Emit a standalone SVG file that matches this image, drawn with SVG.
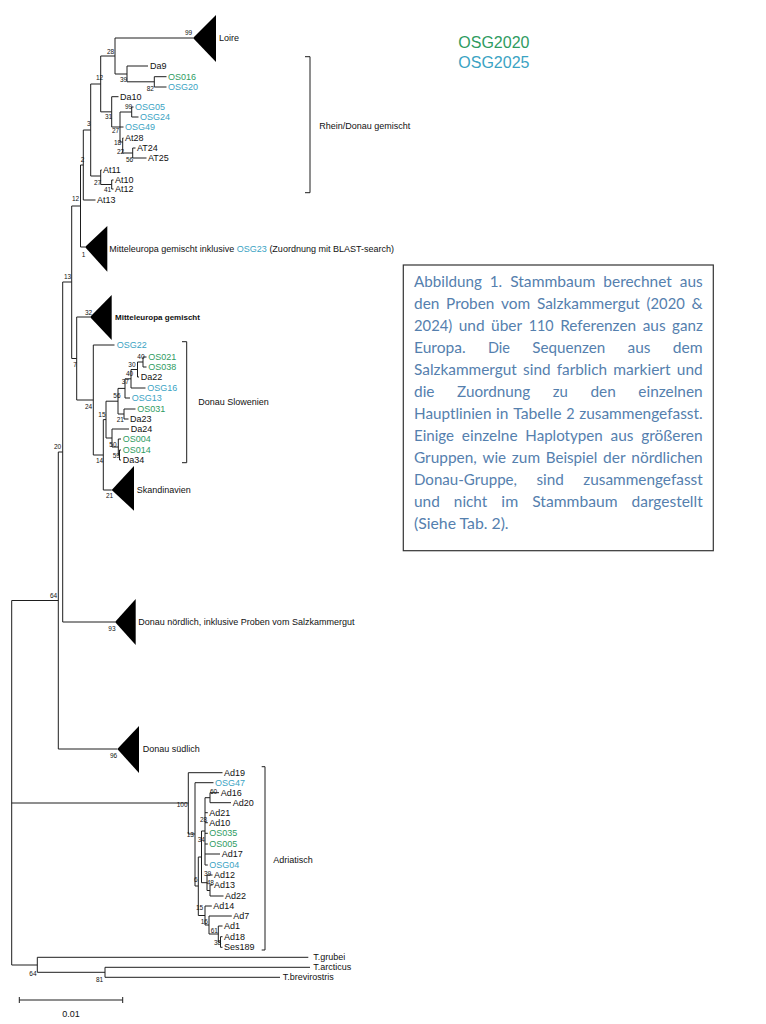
<svg xmlns="http://www.w3.org/2000/svg" width="766" height="1024" viewBox="0 0 766 1024">
<style>
.ln{fill:none;stroke:#1e1e1e;stroke-width:1}
.lf{font-family:"Liberation Sans",Arial,sans-serif;font-size:9px;fill:#111}
.b{font-weight:bold;font-size:8px}
.g{fill:#2e9b5f}
.t{fill:#3aa3c3}
.bs{font-family:"Liberation Sans",Arial,sans-serif;font-size:6.5px;fill:#111}
.tri{fill:#000}
.cap text{font-family:Lato,"Open Sans",sans-serif;font-size:15px;fill:#5580ae}
.leg{font-family:"Liberation Sans",Arial,sans-serif;font-size:16px}
</style>
<rect width="766" height="1024" fill="#fff"/>

<g id="connectors" class="ln">
<path d="M11.7 600.5V965M11.7 600.5H58.3M11.7 803H188.3M11.7 965H37.3"/>
<path d="M58.3 452V749M58.3 749H117.3M58.3 452H62.7M62.7 282V622M62.7 622H115M62.7 282H71.7M71.7 206V358.5M71.7 358.5H76.7"/>
<path d="M76.7 317V400M76.7 317H90M76.7 400H93.3M93.3 345V455M93.3 345H114.5M93.3 455H103.3M103.3 419.6V490M103.3 490H111.7M103.3 419.6H106"/>
<path d="M106 401.2V438M106 401.2H118M118 388.4V414M118 388.4H125M125 378.8V398M125 398H130M125 378.8H131M131 369.5V388M131 388H145.5M131 369.5H137.5M137.5 362V377M137.5 377H139M137.5 362H143M143 357V367M143 357H146.5M143 367H146.5"/>
<path d="M118 414H124M124 409V419M124 409H135.5M124 419H128.5M106 438H112M112 429V447M112 429H129M112 447H118.3M118.3 439V455M118.3 439H121M118.3 455H119.5M119.5 450V460M119.5 450H121M119.5 460H121"/>
<path d="M71.7 206H80.5M80.5 165V247M80.5 247H85M80.5 165H83.3M83.3 130V200M83.3 200H95.5M83.3 130H90.7M90.7 84V176M90.7 176H100.7M100.7 170V184.5M100.7 170H101.8M100.7 184.5H111.7M111.7 180V189M111.7 180H113.5M111.7 189H113.5"/>
<path d="M90.7 84H100.7M100.7 56V111.85M100.7 56H115M115 38V74M115 38H193M115 74H127M127 66V81.8M127 66H148M127 81.8H154.3M154.3 76.7V87M154.3 76.7H166.5M154.3 87H166.5"/>
<path d="M100.7 111.85H111.7M111.7 96.7V127M111.7 96.7H118.5M111.7 127H120M120 112V142M120 112H131.7M131.7 107V117M131.7 107H133.5M131.7 117H138.5M120 127H123.5M120 142H122.7M122.7 138V153M122.7 138H123.5M122.7 153H132.7M132.7 148V158M132.7 148H135.5M132.7 158H146.5"/>
<path d="M188.3 772.7V834M188.3 772.7H222.5M188.3 834H195M195 782.7V886M195 782.7H213.5M195 886H198.3M198.3 857V915.5M198.3 857H201.5M201.5 831V882.7M201.5 831H205M205 797.7V865M205 797.7H210M210 792.7V802.7M210 792.7H219M210 802.7H231"/>
<path d="M205 812.7H207.8M205 822.7H207.8M205 833.3H207.8M205 844H207.8M205 854H220M205 865H207.8M201.5 882.7H207M207 875V890.5M207 875H212.5M207 890.5H210M210 885V896M210 885H212.5M210 896H223.5"/>
<path d="M198.3 915.5H205M205 906V925M205 906H211.8M205 925H209M209 916V934M209 916H231.8M209 934H218.3M218.3 926V942M218.3 926H222.5M218.3 942H220.5M220.5 936.7V947.3M220.5 936.7H222.5M220.5 947.3H222.5"/>
<path d="M37.3 957.3V972.3M37.3 957.3H308.3M37.3 972.3H105M105 967.3V977.3M105 967.3H310M105 977.3H280"/>
</g>

<g id="brackets" class="ln">
<path d="M305 56.7H310V192.7H305"/>
<path d="M182 341.7H186.7V462.7H182"/>
<path d="M261.7 766.7H265V950H261.7"/>
</g>

<g id="clade-loire"><polygon class="tri" points="193,38 216,15 216,62"/><text class="lf" x="219" y="41">Loire</text></g>
<g id="clade-mitteleuropa-inkl"><polygon class="tri" points="85,247 107.3,226 107.3,271.7"/><text class="lf" x="109.3" y="252">Mitteleuropa gemischt inklusive <tspan class="t">OSG23</tspan> (Zuordnung mit BLAST-search)</text></g>
<g id="clade-mitteleuropa"><polygon class="tri" points="90,317 111.7,295 111.7,340"/><text class="lf b" x="115" y="320.3">Mitteleuropa gemischt</text></g>
<g id="clade-skandinavien"><polygon class="tri" points="111.7,490 134,466 134,510.7"/><text class="lf" x="136.7" y="493">Skandinavien</text></g>
<g id="clade-donau-noerdlich"><polygon class="tri" points="115,622 135.7,599 135.7,645"/><text class="lf" x="138.3" y="624.7">Donau nördlich, inklusive Proben vom Salzkammergut</text></g>
<g id="clade-donau-suedlich"><polygon class="tri" points="117.3,749 139,726 139,773"/><text class="lf" x="142.7" y="752">Donau südlich</text></g>
<g id="group-rhein-donau"><text class="lf" x="319.3" y="129">Rhein/Donau gemischt</text></g>
<g id="group-donau-slowenien"><text class="lf" x="198.3" y="404.7">Donau Slowenien</text></g>
<g id="group-adriatisch"><text class="lf" x="273.3" y="863">Adriatisch</text></g>

<g id="leaves" class="lf">
<g id="leaf-Da9"><text x="150" y="69">Da9</text></g>
<g id="leaf-OS016"><text class="g" x="168" y="79.7">OS016</text></g>
<g id="leaf-OSG20"><text class="t" x="168" y="90">OSG20</text></g>
<g id="leaf-Da10"><text x="120" y="99.7">Da10</text></g>
<g id="leaf-OSG05"><text class="t" x="135" y="110">OSG05</text></g>
<g id="leaf-OSG24"><text class="t" x="140" y="120">OSG24</text></g>
<g id="leaf-OSG49"><text class="t" x="125" y="130">OSG49</text></g>
<g id="leaf-At28"><text x="125" y="141">At28</text></g>
<g id="leaf-AT24"><text x="137" y="151">AT24</text></g>
<g id="leaf-AT25"><text x="148" y="161">AT25</text></g>
<g id="leaf-At11"><text x="103" y="173">At11</text></g>
<g id="leaf-At10"><text x="115" y="183">At10</text></g>
<g id="leaf-At12"><text x="115" y="192">At12</text></g>
<g id="leaf-At13"><text x="97" y="203">At13</text></g>
<g id="leaf-OSG22"><text class="t" x="116.7" y="348">OSG22</text></g>
<g id="leaf-OS021"><text class="g" x="148.3" y="360">OS021</text></g>
<g id="leaf-OS038"><text class="g" x="148.3" y="370">OS038</text></g>
<g id="leaf-Da22"><text x="140.7" y="380">Da22</text></g>
<g id="leaf-OSG16"><text class="t" x="147.3" y="391">OSG16</text></g>
<g id="leaf-OSG13"><text class="t" x="131.7" y="401">OSG13</text></g>
<g id="leaf-OS031"><text class="g" x="137.3" y="412">OS031</text></g>
<g id="leaf-Da23"><text x="130" y="422">Da23</text></g>
<g id="leaf-Da24"><text x="130.7" y="432">Da24</text></g>
<g id="leaf-OS004"><text class="g" x="122.7" y="442">OS004</text></g>
<g id="leaf-OS014"><text class="g" x="122.7" y="453">OS014</text></g>
<g id="leaf-Da34"><text x="122.7" y="463">Da34</text></g>
<g id="leaf-Ad19"><text x="224" y="775.7">Ad19</text></g>
<g id="leaf-OSG47"><text class="t" x="215" y="785.7">OSG47</text></g>
<g id="leaf-Ad16"><text x="220.7" y="795.7">Ad16</text></g>
<g id="leaf-Ad20"><text x="232.7" y="805.7">Ad20</text></g>
<g id="leaf-Ad21"><text x="209.3" y="815.7">Ad21</text></g>
<g id="leaf-Ad10"><text x="209.3" y="825.7">Ad10</text></g>
<g id="leaf-OS035"><text class="g" x="209.3" y="836.3">OS035</text></g>
<g id="leaf-OS005"><text class="g" x="209.3" y="847">OS005</text></g>
<g id="leaf-Ad17"><text x="221.7" y="857">Ad17</text></g>
<g id="leaf-OSG04"><text class="t" x="209.3" y="868">OSG04</text></g>
<g id="leaf-Ad12"><text x="214" y="878">Ad12</text></g>
<g id="leaf-Ad13"><text x="214" y="888">Ad13</text></g>
<g id="leaf-Ad22"><text x="225" y="899">Ad22</text></g>
<g id="leaf-Ad14"><text x="213.3" y="909">Ad14</text></g>
<g id="leaf-Ad7"><text x="233.3" y="919">Ad7</text></g>
<g id="leaf-Ad1"><text x="224" y="929">Ad1</text></g>
<g id="leaf-Ad18"><text x="224" y="939.7">Ad18</text></g>
<g id="leaf-Ses189"><text x="224" y="950.3">Ses189</text></g>
<g id="leaf-Tgrubei"><text x="313.3" y="960.3">T.grubei</text></g>
<g id="leaf-Tarcticus"><text x="313.3" y="970.3">T.arcticus</text></g>
<g id="leaf-Tbrevirostris"><text x="282.7" y="980.3">T.brevirostris</text></g>
</g>

<g id="support-values" class="bs">
<text x="185" y="35.3">99</text>
<text x="107" y="54.3">28</text>
<text x="96" y="80.3">12</text>
<text x="120" y="82.3">39</text>
<text x="146.7" y="90.6">82</text>
<text x="125" y="109.3">99</text>
<text x="105" y="119.3">31</text>
<text x="87" y="126.3">3</text>
<text x="112" y="133.3">27</text>
<text x="114" y="145.3">18</text>
<text x="117" y="154.3">22</text>
<text x="126" y="162.3">56</text>
<text x="80.7" y="161.6">2</text>
<text x="94" y="185.3">27</text>
<text x="104" y="192.3">41</text>
<text x="72" y="201.3">12</text>
<text x="81.7" y="257.3">1</text>
<text x="64" y="279">13</text>
<text x="85" y="315.3">32</text>
<text x="137.3" y="359">40</text>
<text x="128.3" y="367.3">30</text>
<text x="126" y="376.3">40</text>
<text x="121.7" y="384">37</text>
<text x="113.3" y="398.3">56</text>
<text x="73.3" y="367.3">7</text>
<text x="85" y="409.3">24</text>
<text x="98.3" y="417.3">15</text>
<text x="116.7" y="422.3">21</text>
<text x="109.3" y="447.3">50</text>
<text x="112.7" y="458.3">59</text>
<text x="96" y="463.3">14</text>
<text x="106" y="498.3">21</text>
<text x="54" y="449.3">20</text>
<text x="50" y="597.6">64</text>
<text x="108.3" y="631.3">93</text>
<text x="110" y="758.3">96</text>
<text x="176.7" y="807.3">100</text>
<text x="210" y="794">60</text>
<text x="200" y="822.3">28</text>
<text x="186.7" y="837.3">13</text>
<text x="197.7" y="842.3">34</text>
<text x="194" y="882.3">6</text>
<text x="204" y="876.3">39</text>
<text x="206.7" y="885">48</text>
<text x="196" y="910.3">15</text>
<text x="200.7" y="924">16</text>
<text x="210.7" y="933">61</text>
<text x="214" y="945">38</text>
<text x="29.3" y="975.6">64</text>
<text x="96" y="981.6">81</text>
</g>

<g id="scale-bar">
<path class="ln" d="M19.3 1000H122.7M19.3 997V1003M122.7 997V1003"/>
<text class="lf" x="71" y="1017" text-anchor="middle">0.01</text>
</g>

<g id="legend" class="leg">
<text x="458.3" y="48" class="g">OSG2020</text>
<text x="458.3" y="68" class="t">OSG2025</text>
</g>

<g id="caption">
<rect x="403.3" y="265" width="310" height="285.7" fill="#fff" stroke="#333" stroke-width="1.2"/>
<g class="cap">
<g><text x="414" y="287" textLength="67.78" lengthAdjust="spacingAndGlyphs">Abbildung</text><text x="489.74" y="287" textLength="12.45" lengthAdjust="spacingAndGlyphs">1.</text><text x="510.15" y="287" textLength="85.26" lengthAdjust="spacingAndGlyphs">Stammbaum</text><text x="603.37" y="287" textLength="68.49" lengthAdjust="spacingAndGlyphs">berechnet</text><text x="679.82" y="287" textLength="22.88" lengthAdjust="spacingAndGlyphs">aus</text></g>
<g><text x="414" y="309" textLength="25.39" lengthAdjust="spacingAndGlyphs">den</text><text x="446.12" y="309" textLength="48.23" lengthAdjust="spacingAndGlyphs">Proben</text><text x="501.08" y="309" textLength="29.16" lengthAdjust="spacingAndGlyphs">vom</text><text x="536.97" y="309" textLength="102.86" lengthAdjust="spacingAndGlyphs">Salzkammergut</text><text x="646.56" y="309" textLength="38.23" lengthAdjust="spacingAndGlyphs">(2020</text><text x="691.52" y="309" textLength="11.18" lengthAdjust="spacingAndGlyphs">&amp;</text></g>
<g><text x="414" y="331" textLength="38.23" lengthAdjust="spacingAndGlyphs">2024)</text><text x="458.74" y="331" textLength="25.83" lengthAdjust="spacingAndGlyphs">und</text><text x="491.08" y="331" textLength="31.11" lengthAdjust="spacingAndGlyphs">über</text><text x="528.7" y="331" textLength="24.94" lengthAdjust="spacingAndGlyphs">110</text><text x="560.15" y="331" textLength="76" lengthAdjust="spacingAndGlyphs">Referenzen</text><text x="642.66" y="331" textLength="22.88" lengthAdjust="spacingAndGlyphs">aus</text><text x="672.05" y="331" textLength="30.67" lengthAdjust="spacingAndGlyphs">ganz</text></g>
<g><text x="414" y="353" textLength="51.58" lengthAdjust="spacingAndGlyphs">Europa.</text><text x="487.93" y="353" textLength="22.01" lengthAdjust="spacingAndGlyphs">Die</text><text x="532.29" y="353" textLength="72.95" lengthAdjust="spacingAndGlyphs">Sequenzen</text><text x="627.59" y="353" textLength="22.88" lengthAdjust="spacingAndGlyphs">aus</text><text x="672.82" y="353" textLength="29.88" lengthAdjust="spacingAndGlyphs">dem</text></g>
<g><text x="414" y="375" textLength="102.86" lengthAdjust="spacingAndGlyphs">Salzkammergut</text><text x="523.13" y="375" textLength="27.39" lengthAdjust="spacingAndGlyphs">sind</text><text x="556.79" y="375" textLength="50.25" lengthAdjust="spacingAndGlyphs">farblich</text><text x="613.31" y="375" textLength="57.29" lengthAdjust="spacingAndGlyphs">markiert</text><text x="676.87" y="375" textLength="25.83" lengthAdjust="spacingAndGlyphs">und</text></g>
<g><text x="414" y="397" textLength="20.53" lengthAdjust="spacingAndGlyphs">die</text><text x="457.09" y="397" textLength="73.14" lengthAdjust="spacingAndGlyphs">Zuordnung</text><text x="552.79" y="397" textLength="15.09" lengthAdjust="spacingAndGlyphs">zu</text><text x="590.44" y="397" textLength="25.39" lengthAdjust="spacingAndGlyphs">den</text><text x="638.39" y="397" textLength="64.32" lengthAdjust="spacingAndGlyphs">einzelnen</text></g>
<g><text x="414" y="419" textLength="77.44" lengthAdjust="spacingAndGlyphs">Hauptlinien</text><text x="496.13" y="419" textLength="12.37" lengthAdjust="spacingAndGlyphs">in</text><text x="513.19" y="419" textLength="48.3" lengthAdjust="spacingAndGlyphs">Tabelle</text><text x="566.18" y="419" textLength="8.31" lengthAdjust="spacingAndGlyphs">2</text><text x="579.18" y="419" textLength="123.54" lengthAdjust="spacingAndGlyphs">zusammengefasst.</text></g>
<g><text x="414" y="441" textLength="40.02" lengthAdjust="spacingAndGlyphs">Einige</text><text x="461.82" y="441" textLength="55.71" lengthAdjust="spacingAndGlyphs">einzelne</text><text x="525.33" y="441" textLength="77.39" lengthAdjust="spacingAndGlyphs">Haplotypen</text><text x="610.52" y="441" textLength="22.88" lengthAdjust="spacingAndGlyphs">aus</text><text x="641.2" y="441" textLength="61.52" lengthAdjust="spacingAndGlyphs">größeren</text></g>
<g><text x="414" y="463" textLength="62.78" lengthAdjust="spacingAndGlyphs">Gruppen,</text><text x="482.5" y="463" textLength="23.65" lengthAdjust="spacingAndGlyphs">wie</text><text x="511.87" y="463" textLength="28.19" lengthAdjust="spacingAndGlyphs">zum</text><text x="545.78" y="463" textLength="51.55" lengthAdjust="spacingAndGlyphs">Beispiel</text><text x="603.05" y="463" textLength="22.5" lengthAdjust="spacingAndGlyphs">der</text><text x="631.27" y="463" textLength="71.42" lengthAdjust="spacingAndGlyphs">nördlichen</text></g>
<g><text x="414" y="485" textLength="103" lengthAdjust="spacingAndGlyphs">Donau-Gruppe,</text><text x="536.45" y="485" textLength="27.39" lengthAdjust="spacingAndGlyphs">sind</text><text x="583.29" y="485" textLength="119.41" lengthAdjust="spacingAndGlyphs">zusammengefasst</text></g>
<g><text x="414" y="507" textLength="25.83" lengthAdjust="spacingAndGlyphs">und</text><text x="453.88" y="507" textLength="33.41" lengthAdjust="spacingAndGlyphs">nicht</text><text x="501.34" y="507" textLength="16.86" lengthAdjust="spacingAndGlyphs">im</text><text x="532.25" y="507" textLength="85.26" lengthAdjust="spacingAndGlyphs">Stammbaum</text><text x="631.56" y="507" textLength="71.16" lengthAdjust="spacingAndGlyphs">dargestellt</text></g>
<g><text x="414" y="529" textLength="94.6" lengthAdjust="spacingAndGlyphs">(Siehe Tab. 2).</text></g>
</g>
</g>
</svg>
